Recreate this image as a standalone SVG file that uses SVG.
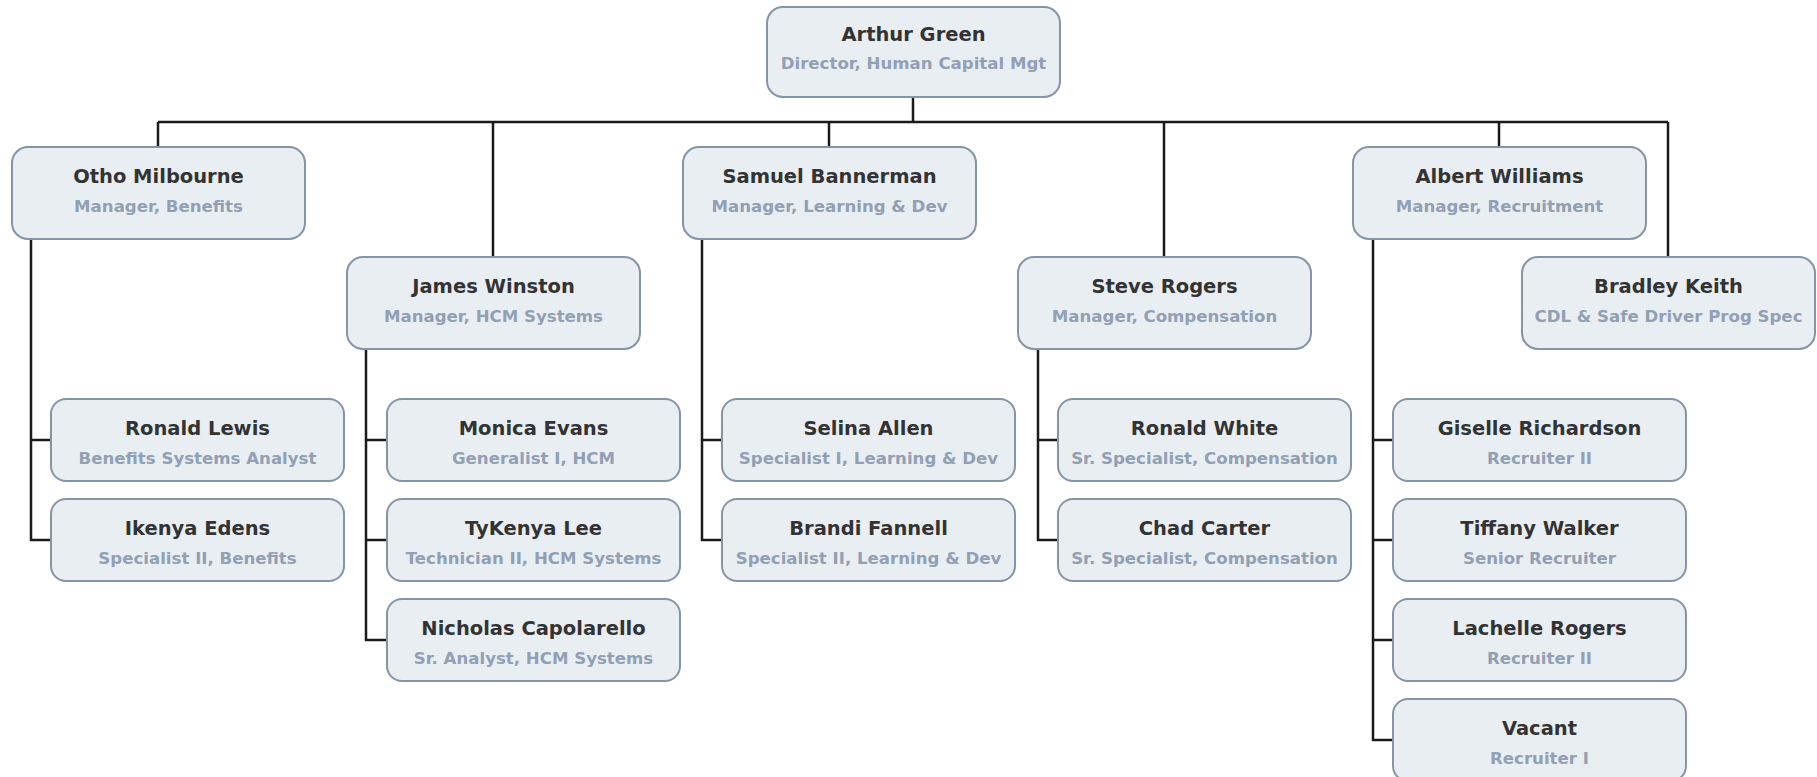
<svg xmlns="http://www.w3.org/2000/svg" width="1817" height="777" viewBox="0 0 1817 777">
  <style>
    .box { fill: #e9eef3; stroke: #8594a6; stroke-width: 2; }
    .name { font-family: "DejaVu Sans", Verdana, sans-serif; font-weight: bold; font-size: 19.5px; fill: #333333; text-anchor: middle; }
    .title { font-family: "DejaVu Sans", Verdana, sans-serif; font-weight: bold; font-size: 16.6px; fill: #91a0b4; text-anchor: middle; }
    .wire { fill: none; stroke: #1a1a1a; stroke-width: 2.5; }
  </style>
  <rect width="1817" height="777" fill="#ffffff"/>

  <!-- reporting lines -->
  <g id="connectors" class="wire">
    <path d="M913 97 V122"/>
    <path d="M158 122 H1668"/>
    <path d="M158 122 V147"/>
    <path d="M493 122 V257"/>
    <path d="M829 122 V147"/>
    <path d="M1164 122 V257"/>
    <path d="M1499 122 V147"/>
    <path d="M1668 122 V257"/>
    <!-- Benefits -->
    <path d="M31 239 V540 H51 M31 440 H51"/>
    <!-- HCM Systems -->
    <path d="M366 349 V640 H387 M366 440 H387 M366 540 H387"/>
    <!-- Learning & Dev -->
    <path d="M702 239 V540 H722 M702 440 H722"/>
    <!-- Compensation -->
    <path d="M1038 349 V540 H1058 M1038 440 H1058"/>
    <!-- Recruitment -->
    <path d="M1373 239 V740 H1393 M1373 440 H1393 M1373 540 H1393 M1373 640 H1393"/>
  </g>

  <!-- director -->
  <g id="arthur-green">
    <rect class="box" x="767" y="7" width="293" height="90" rx="16"/>
    <text class="name" x="913.5" y="41">Arthur Green</text>
    <text class="title" x="913.5" y="69">Director, Human Capital Mgt</text>
  </g>

  <!-- managers -->
  <g id="otho-milbourne">
    <rect class="box" x="12" y="147" width="293" height="92" rx="16"/>
    <text class="name" x="158.5" y="183">Otho Milbourne</text>
    <text class="title" x="158.5" y="212">Manager, Benefits</text>
  </g>
  <g id="james-winston">
    <rect class="box" x="347" y="257" width="293" height="92" rx="16"/>
    <text class="name" x="493.5" y="293">James Winston</text>
    <text class="title" x="493.5" y="322">Manager, HCM Systems</text>
  </g>
  <g id="samuel-bannerman">
    <rect class="box" x="683" y="147" width="293" height="92" rx="16"/>
    <text class="name" x="829.5" y="183">Samuel Bannerman</text>
    <text class="title" x="829.5" y="212">Manager, Learning &amp; Dev</text>
  </g>
  <g id="steve-rogers">
    <rect class="box" x="1018" y="257" width="293" height="92" rx="16"/>
    <text class="name" x="1164.5" y="293">Steve Rogers</text>
    <text class="title" x="1164.5" y="322">Manager, Compensation</text>
  </g>
  <g id="albert-williams">
    <rect class="box" x="1353" y="147" width="293" height="92" rx="16"/>
    <text class="name" x="1499.5" y="183">Albert Williams</text>
    <text class="title" x="1499.5" y="212">Manager, Recruitment</text>
  </g>
  <g id="bradley-keith">
    <rect class="box" x="1522" y="257" width="293" height="92" rx="16"/>
    <text class="name" x="1668.5" y="293">Bradley Keith</text>
    <text class="title" x="1668.5" y="322">CDL &amp; Safe Driver Prog Spec</text>
  </g>

  <!-- Benefits staff -->
  <g id="ronald-lewis">
    <rect class="box" x="51" y="399" width="293" height="82" rx="15"/>
    <text class="name" x="197.5" y="435">Ronald Lewis</text>
    <text class="title" x="197.5" y="464">Benefits Systems Analyst</text>
  </g>
  <g id="ikenya-edens">
    <rect class="box" x="51" y="499" width="293" height="82" rx="15"/>
    <text class="name" x="197.5" y="535">Ikenya Edens</text>
    <text class="title" x="197.5" y="564">Specialist II, Benefits</text>
  </g>

  <!-- HCM Systems staff -->
  <g id="monica-evans">
    <rect class="box" x="387" y="399" width="293" height="82" rx="15"/>
    <text class="name" x="533.5" y="435">Monica Evans</text>
    <text class="title" x="533.5" y="464">Generalist I, HCM</text>
  </g>
  <g id="tykenya-lee">
    <rect class="box" x="387" y="499" width="293" height="82" rx="15"/>
    <text class="name" x="533.5" y="535">TyKenya Lee</text>
    <text class="title" x="533.5" y="564">Technician II, HCM Systems</text>
  </g>
  <g id="nicholas-capolarello">
    <rect class="box" x="387" y="599" width="293" height="82" rx="15"/>
    <text class="name" x="533.5" y="635">Nicholas Capolarello</text>
    <text class="title" x="533.5" y="664">Sr. Analyst, HCM Systems</text>
  </g>

  <!-- Learning & Dev staff -->
  <g id="selina-allen">
    <rect class="box" x="722" y="399" width="293" height="82" rx="15"/>
    <text class="name" x="868.5" y="435">Selina Allen</text>
    <text class="title" x="868.5" y="464">Specialist I, Learning &amp; Dev</text>
  </g>
  <g id="brandi-fannell">
    <rect class="box" x="722" y="499" width="293" height="82" rx="15"/>
    <text class="name" x="868.5" y="535">Brandi Fannell</text>
    <text class="title" x="868.5" y="564">Specialist II, Learning &amp; Dev</text>
  </g>

  <!-- Compensation staff -->
  <g id="ronald-white">
    <rect class="box" x="1058" y="399" width="293" height="82" rx="15"/>
    <text class="name" x="1204.5" y="435">Ronald White</text>
    <text class="title" x="1204.5" y="464">Sr. Specialist, Compensation</text>
  </g>
  <g id="chad-carter">
    <rect class="box" x="1058" y="499" width="293" height="82" rx="15"/>
    <text class="name" x="1204.5" y="535">Chad Carter</text>
    <text class="title" x="1204.5" y="564">Sr. Specialist, Compensation</text>
  </g>

  <!-- Recruitment staff -->
  <g id="giselle-richardson">
    <rect class="box" x="1393" y="399" width="293" height="82" rx="15"/>
    <text class="name" x="1539.5" y="435">Giselle Richardson</text>
    <text class="title" x="1539.5" y="464">Recruiter II</text>
  </g>
  <g id="tiffany-walker">
    <rect class="box" x="1393" y="499" width="293" height="82" rx="15"/>
    <text class="name" x="1539.5" y="535">Tiffany Walker</text>
    <text class="title" x="1539.5" y="564">Senior Recruiter</text>
  </g>
  <g id="lachelle-rogers">
    <rect class="box" x="1393" y="599" width="293" height="82" rx="15"/>
    <text class="name" x="1539.5" y="635">Lachelle Rogers</text>
    <text class="title" x="1539.5" y="664">Recruiter II</text>
  </g>
  <g id="vacant">
    <rect class="box" x="1393" y="699" width="293" height="82" rx="15"/>
    <text class="name" x="1539.5" y="735">Vacant</text>
    <text class="title" x="1539.5" y="764">Recruiter I</text>
  </g>
</svg>
